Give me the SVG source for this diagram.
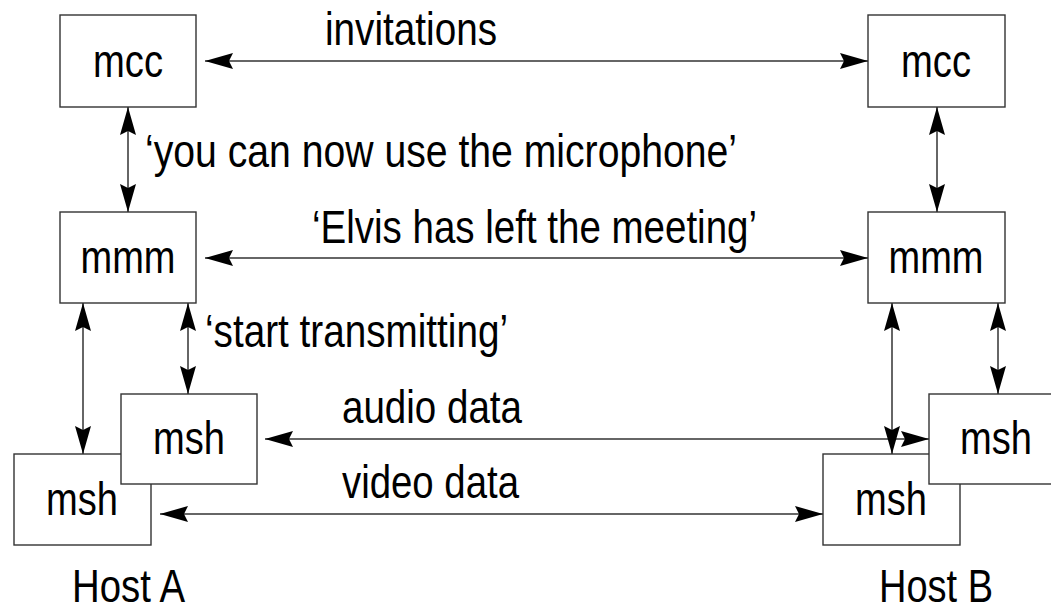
<svg xmlns="http://www.w3.org/2000/svg" width="1051" height="608" viewBox="0 0 1051 608">
<style>
.box{fill:#fff;stroke:#333;stroke-width:1.4}
.lbl{font-family:"Liberation Sans Narrow","Liberation Sans",Arial,sans-serif;font-size:46px;fill:#000}
.c{text-anchor:middle}
.ln{stroke:#333;stroke-width:1.5;fill:none;marker-start:url(#ah);marker-end:url(#ah)}
</style>
<defs>
<marker id="ah" viewBox="0 0 28 16" refX="28" refY="8" markerWidth="28" markerHeight="16" markerUnits="userSpaceOnUse" orient="auto-start-reverse">
<path d="M0,0 L28,8 L0,16 L4,8 Z" fill="#000"/>
</marker>
</defs>
<rect width="1051" height="608" fill="#fff"/>
<g id="mccA"><rect class="box" x="60" y="15" width="136" height="92"/><text class="lbl c" x="128" y="77" textLength="70" lengthAdjust="spacingAndGlyphs">mcc</text></g>
<g id="mmmA"><rect class="box" x="60" y="212" width="136" height="91"/><text class="lbl c" x="128" y="273" textLength="95" lengthAdjust="spacingAndGlyphs">mmm</text></g>
<g id="mshA2"><rect class="box" x="14" y="454" width="137" height="91"/><text class="lbl c" x="82" y="515" textLength="72" lengthAdjust="spacingAndGlyphs">msh</text></g>
<g id="mshA1"><rect class="box" x="121" y="394" width="136" height="90"/><text class="lbl c" x="189" y="454" textLength="72" lengthAdjust="spacingAndGlyphs">msh</text></g>
<g id="mccB"><rect class="box" x="868" y="15" width="137" height="92"/><text class="lbl c" x="936" y="77" textLength="70" lengthAdjust="spacingAndGlyphs">mcc</text></g>
<g id="mmmB"><rect class="box" x="868" y="212" width="137" height="91"/><text class="lbl c" x="936" y="273" textLength="95" lengthAdjust="spacingAndGlyphs">mmm</text></g>
<g id="mshB2"><rect class="box" x="823" y="454" width="137" height="91"/><text class="lbl c" x="891" y="515" textLength="72" lengthAdjust="spacingAndGlyphs">msh</text></g>
<g id="mshB1"><rect class="box" x="929" y="394" width="136" height="90"/><text class="lbl c" x="996" y="454" textLength="72" lengthAdjust="spacingAndGlyphs">msh</text></g>
<g id="hostA"><text class="lbl" x="72" y="602" textLength="113" lengthAdjust="spacingAndGlyphs">Host A</text></g>
<g id="hostB"><text class="lbl" x="879" y="602" textLength="114" lengthAdjust="spacingAndGlyphs">Host B</text></g>
<g id="connectors">
<line class="ln" x1="205" y1="61" x2="868" y2="61"/>
<line class="ln" x1="205" y1="258" x2="868" y2="258"/>
<line class="ln" x1="265" y1="439" x2="929" y2="439"/>
<line class="ln" x1="160" y1="514" x2="823" y2="514"/>
<line class="ln" x1="128" y1="107" x2="128" y2="212"/>
<line class="ln" x1="937" y1="107" x2="937" y2="212"/>
<line class="ln" x1="83" y1="303" x2="83" y2="454"/>
<line class="ln" x1="188" y1="303" x2="188" y2="394"/>
<line class="ln" x1="892" y1="303" x2="892" y2="454"/>
<line class="ln" x1="998" y1="303" x2="998" y2="394"/>
<text class="lbl" x="325" y="45" textLength="172" lengthAdjust="spacingAndGlyphs">invitations</text>
<text class="lbl" x="145" y="167" textLength="592" lengthAdjust="spacingAndGlyphs">‘you can now use the microphone’</text>
<text class="lbl" x="312" y="243" textLength="445" lengthAdjust="spacingAndGlyphs">‘Elvis has left the meeting’</text>
<text class="lbl" x="205" y="347" textLength="303" lengthAdjust="spacingAndGlyphs">‘start transmitting’</text>
<text class="lbl" x="342" y="423" textLength="180" lengthAdjust="spacingAndGlyphs">audio data</text>
<text class="lbl" x="342" y="498" textLength="177" lengthAdjust="spacingAndGlyphs">video data</text>
</g>
</svg>
